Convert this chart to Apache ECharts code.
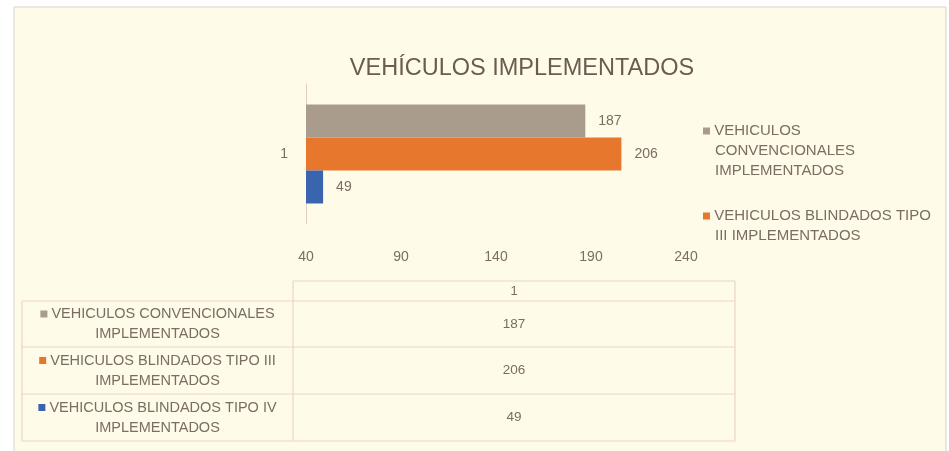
<!DOCTYPE html>
<html>
<head>
<meta charset="utf-8">
<script src="https://cdn.jsdelivr.net/npm/echarts@6/dist/echarts.min.js"></script>
<style>html,body{margin:0;padding:0;background:#fff}#c{width:949px;height:451px}</style>
</head>
<body>
<div id="c"></div>
<script>
// ---- data ----
var categories = ['1'];
var seriesNames = [
  'VEHICULOS CONVENCIONALES IMPLEMENTADOS',
  'VEHICULOS BLINDADOS TIPO III IMPLEMENTADOS',
  'VEHICULOS BLINDADOS TIPO IV IMPLEMENTADOS'
];
var seriesValues = [187, 206, 49];
var seriesColors = ['#a99c8c', '#e8772e', '#3b64ae'];
var legendLines = [
  ['VEHICULOS', 'CONVENCIONALES', 'IMPLEMENTADOS'],
  ['VEHICULOS BLINDADOS TIPO', 'III IMPLEMENTADOS']
];
var tableLines = [
  ['VEHICULOS CONVENCIONALES', 'IMPLEMENTADOS'],
  ['VEHICULOS BLINDADOS TIPO III', 'IMPLEMENTADOS'],
  ['VEHICULOS BLINDADOS TIPO IV', 'IMPLEMENTADOS']
];
var xTicks = {min: 40, max: 240, interval: 50};
var titleText = 'VEHÍCULOS IMPLEMENTADOS';

var FONT = "'Liberation Sans', sans-serif";
var TXT = '#7b6d62';
var LINE = '#ecd5c2';

var chart = echarts.init(document.getElementById('c'));

var series = [];
for (var i = 0; i < seriesNames.length; i++) {
  series.push({
    type: 'bar',
    name: seriesNames[i],
    data: [seriesValues[i]],
    barWidth: 33,
    barGap: '0%',
    itemStyle: {color: seriesColors[i]},
    label: {show: true, position: 'right', distance: 13, color: TXT, fontSize: 14, fontFamily: FONT}
  });
}

var legendRich = {sp: {width: 12, lineHeight: 20}};
seriesColors.forEach(function (c, i) {
  legendRich['s' + i] = {width: 7, height: 7, backgroundColor: c, lineHeight: 20};
});

// table graphics
var tX0 = 22, tX1 = 293, tX2 = 735;
var rowY = [281, 301, 347, 394, 441];
var g = [];
g.push({type: 'rect', shape: {x: 14, y: 7, width: 932, height: 446}, style: {fill: '#fefbe9', stroke: '#d9d1c8', lineWidth: 1}, z: -10, silent: true});
function ln(x1, y1, x2, y2) {
  g.push({type: 'line', shape: {x1: x1, y1: y1, x2: x2, y2: y2}, style: {stroke: LINE, lineWidth: 1.2}, silent: true});
}
ln(tX1, rowY[0], tX2, rowY[0]);
ln(tX0, rowY[1], tX2, rowY[1]);
ln(tX0, rowY[2], tX2, rowY[2]);
ln(tX0, rowY[3], tX2, rowY[3]);
ln(tX0, rowY[4], tX2, rowY[4]);
ln(tX0, rowY[1], tX0, rowY[4]);
ln(tX1, rowY[0], tX1, rowY[4]);
ln(tX2, rowY[0], tX2, rowY[4]);
g.push({type: 'text', x: (tX1 + tX2) / 2, y: (rowY[0] + rowY[1]) / 2,
  style: {text: categories[0], fill: TXT, font: '13px ' + FONT, align: 'center', verticalAlign: 'middle'}, silent: true});
for (var r = 0; r < seriesNames.length; r++) {
  var cy = (rowY[r + 1] + rowY[r + 2]) / 2;
  g.push({type: 'text', x: (tX0 + tX1) / 2, y: cy,
    style: {text: '{s' + r + '|} ' + tableLines[r][0] + '\n' + tableLines[r][1], fill: TXT, font: '14.5px ' + FONT,
      align: 'center', verticalAlign: 'middle', lineHeight: 20,
      rich: (function (rr) { var o = {}; o['s' + rr] = {width: 7, height: 7, backgroundColor: seriesColors[rr]}; return o; })(r)}, silent: true});
  g.push({type: 'text', x: (tX1 + tX2) / 2, y: cy,
    style: {text: String(seriesValues[r]), fill: TXT, font: '13.5px ' + FONT, align: 'center', verticalAlign: 'middle'}, silent: true});
}

chart.setOption({
  backgroundColor: '#ffffff',
  animation: false,
  title: {
    text: titleText, left: 517, top: 52, textAlign: 'center',
    textStyle: {color: '#6b5c50', fontSize: 23.5, fontWeight: 'normal', fontFamily: FONT}
  },
  grid: {left: 306, right: 263, top: 84, height: 140, containLabel: false},
  legend: {
    orient: 'vertical', left: 697, top: 121, padding: 0, itemGap: 25,
    icon: 'rect', itemWidth: 1, itemHeight: 1,
    itemStyle: {opacity: 0},
    data: [seriesNames[0], seriesNames[1]],
    formatter: function (name) {
      var idx = seriesNames.indexOf(name);
      var lines = legendLines[idx];
      return lines.map(function (l, k) {
        return (k === 0 ? '{s' + idx + '|} ' : '{sp|}') + '{t|' + l + '}';
      }).join('\n');
    },
    textStyle: {color: TXT, fontSize: 15, fontFamily: FONT, lineHeight: 20,
      rich: Object.assign({t: {color: TXT, fontSize: 15, fontFamily: FONT, lineHeight: 20}}, legendRich)}
  },
  xAxis: {
    type: 'value', min: xTicks.min, max: xTicks.max, interval: xTicks.interval,
    axisLine: {show: false}, axisTick: {show: false}, splitLine: {show: false},
    axisLabel: {color: TXT, fontSize: 14, fontFamily: FONT, margin: 26}
  },
  yAxis: {
    type: 'category', data: categories,
    axisLine: {show: true, lineStyle: {color: '#e5cdbb', width: 1}},
    axisTick: {show: false},
    axisLabel: {color: TXT, fontSize: 14, fontFamily: FONT, margin: 18}
  },
  series: series,
  graphic: g
});
</script>
</body>
</html>
